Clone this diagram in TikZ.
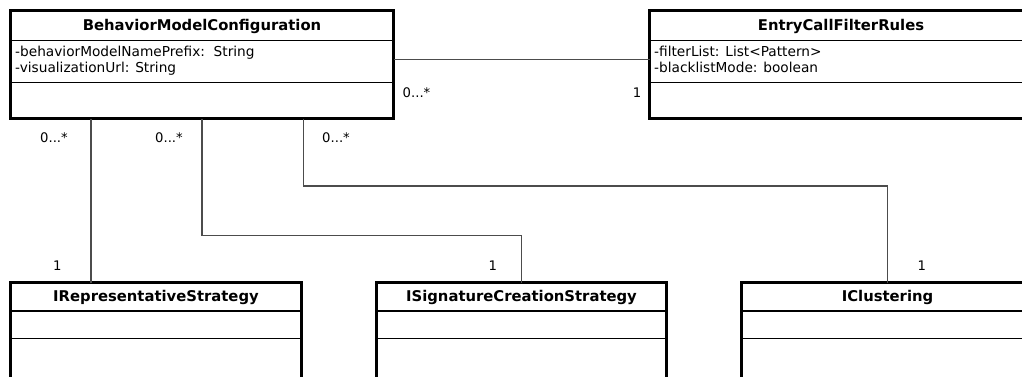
\documentclass[tikz,border=0pt]{standalone}
\usepackage{fontspec}
\setmainfont{DejaVu Sans}
\begin{document}
\begin{tikzpicture}[x=1pt,y=-1pt,
  classbox/.style={draw=black, line width=3pt, fill=white, rectangle,
    inner sep=0pt, outer sep=0pt},
  compsep/.style={draw=black, line width=1.1pt},
  assoc/.style={draw=black!70, line width=1.1pt},
  classname/.style={font=\fontsize{14.8}{17}\selectfont\bfseries, inner sep=0pt, anchor=base},
  attr/.style={font=\fontsize{13.7}{16}\selectfont, inner sep=0pt, anchor=base west},
  mult/.style={font=\fontsize{13.2}{16}\selectfont, inner sep=0pt},
]
\useasboundingbox (0,0) rectangle (1022,377);
\clip (0,0) rectangle (1022,377);

% class boxes
\node[classbox, minimum width=383pt, minimum height=108.5pt] (bmc) at (202,64.75) {};
\node[classbox, minimum width=383pt, minimum height=108.5pt] (ecfr) at (841,64.75) {};
\node[classbox, minimum width=291pt, minimum height=150pt] (irep) at (156,357.5) {};
\node[classbox, minimum width=290pt, minimum height=150pt] (isig) at (521.5,357.5) {};
\node[classbox, minimum width=292pt, minimum height=150pt] (iclu) at (887.5,357.5) {};

% compartment separators
\foreach \b in {bmc,ecfr}{
  \draw[compsep] (\b.west |- 0,40.7) -- (\b.east |- 0,40.7);
  \draw[compsep] (\b.west |- 0,82.3) -- (\b.east |- 0,82.3);
}
\foreach \b in {irep,isig,iclu}{
  \draw[compsep] (\b.west |- 0,311) -- (\b.east |- 0,311);
  \draw[compsep] (\b.west |- 0,338.3) -- (\b.east |- 0,338.3);
}

% class names
\node[classname] (bmcName) at (bmc.north |- 0,30.7) {BehaviorModelConfiguration};
\node[classname] (ecfrName) at (ecfr.north |- 0,30.7) {EntryCallFilterRules};
\node[classname] (irepName) at (irep.north |- 0,301.5) {IRepresentativeStrategy};
\node[classname] (isigName) at (isig.north |- 0,301.5) {ISignatureCreationStrategy};
\node[classname] (icluName) at (iclu.north |- 0,301.5) {IClustering};

% attributes
\node[attr] (bmcA1) at ([xshift=4.5pt]bmc.west |- 0,56.7) {-behaviorModelNamePrefix:\ \ String};
\node[attr] (bmcA2) at ([xshift=4.5pt]bmc.west |- 0,72.7) {-visualizationUrl: String};
\node[attr] (ecfrA1) at ([xshift=4.5pt]ecfr.west |- 0,56.7) {-filterList: List<Pattern>};
\node[attr] (ecfrA2) at ([xshift=4.5pt]ecfr.west |- 0,72.7) {-blacklistMode: boolean};

% associations
\coordinate (c1) at (91,0);
\coordinate (c2) at (202,0);
\coordinate (c3) at (303.5,0);
\coordinate (h2) at (0,235.7);
\coordinate (h3) at (0,186);
\draw[assoc] ([yshift=5.45pt]bmc.east) -- ([yshift=5.45pt]ecfr.west);
\draw[assoc] (bmc.south -| c1) -- (irep.north -| c1);
\draw[assoc] (bmc.south -| c2) -- (c2 |- h2) -| (isig.north);
\draw[assoc] (bmc.south -| c3) -- (c3 |- h3) -| (iclu.north);

% multiplicities
\node[mult] (m1) at (416.5,93) {0...*};
\node[mult] (m2) at (637,93) {1};
\node[mult] (m3) at (54,138) {0...*};
\node[mult] (m4) at (169,138) {0...*};
\node[mult] (m5) at (336,138) {0...*};
\node[mult] (m6) at (57.3,265.7) {1};
\node[mult] (m7) at (492.7,265.7) {1};
\node[mult] (m8) at (921.7,265.7) {1};
\end{tikzpicture}
\end{document}
